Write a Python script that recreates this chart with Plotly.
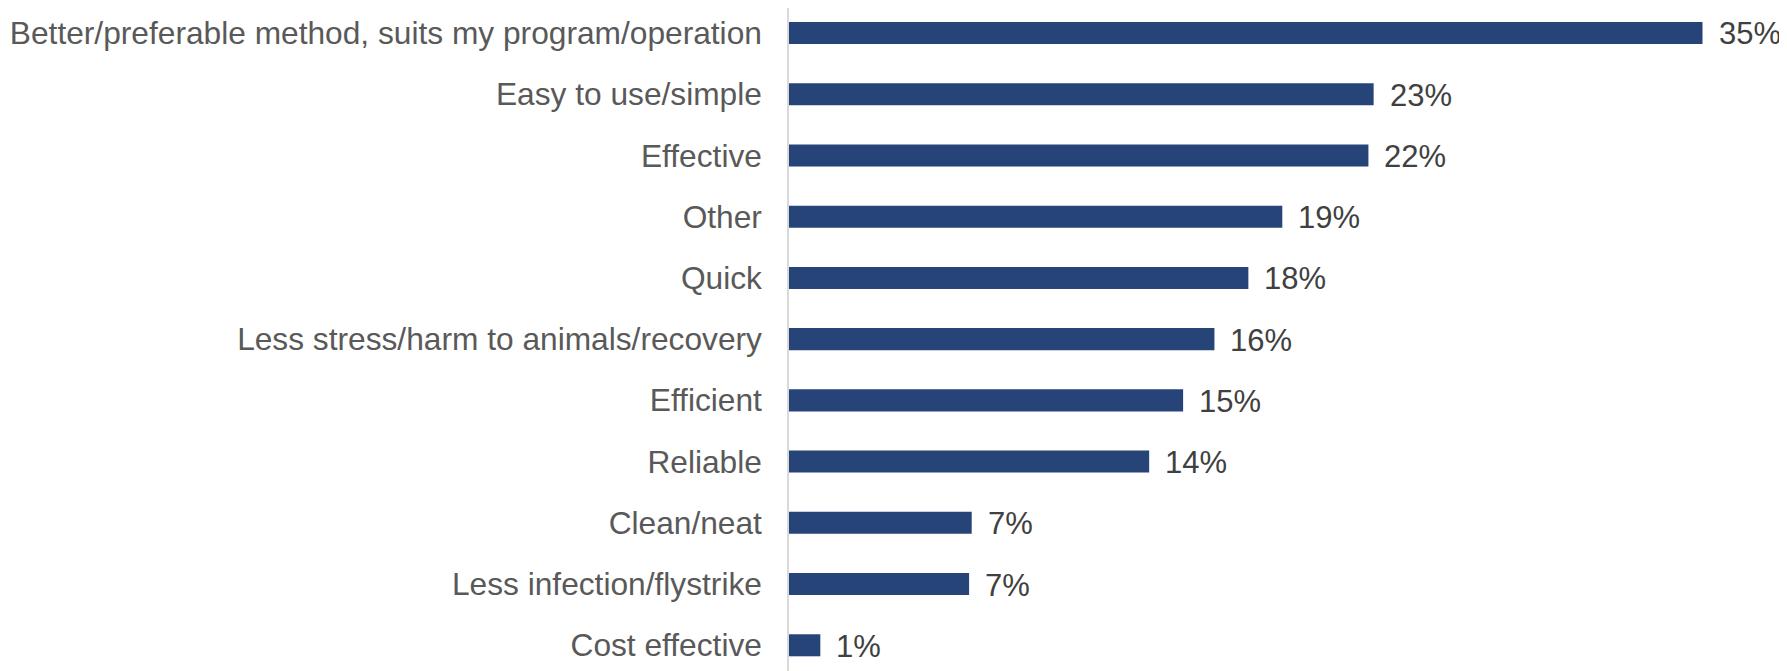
import plotly.graph_objects as go

categories = [
    "Better/preferable method, suits my program/operation",
    "Easy to use/simple",
    "Effective",
    "Other",
    "Quick",
    "Less stress/harm to animals/recovery",
    "Efficient",
    "Reliable",
    "Clean/neat",
    "Less infection/flystrike",
    "Cost effective",
]
values = [35.0, 22.4, 22.2, 18.9, 17.6, 16.3, 15.1, 13.8, 7.0, 6.9, 1.2]
value_labels = ["35%", "23%", "22%", "19%", "18%", "16%", "15%", "14%", "7%", "7%", "1%"]

# the page body adds an 8px offset, so the figure is sized to fit inside it
W, H = 1779, 663
L = 781
PX_PER_UNIT = 26.1
FONT = "Liberation Sans, Arial, sans-serif"
BAR_COLOR = "#264478"

fig = go.Figure()
fig.add_trace(go.Bar(
    y=categories,
    x=values,
    orientation="h",
    width=0.36,
    marker=dict(color=BAR_COLOR, line=dict(width=0)),
    hoverinfo="skip",
))

for c, v, t in zip(categories, values, value_labels):
    fig.add_annotation(
        x=v, y=c, text=t, showarrow=False,
        xanchor="left", yanchor="middle", xshift=14, yshift=-1,
        font=dict(family=FONT, size=31, color="#404040"),
    )

fig.update_layout(
    width=W, height=H,
    margin=dict(l=L, r=0, t=0, b=0, autoexpand=False),
    paper_bgcolor="white", plot_bgcolor="white",
    showlegend=False,
    font=dict(family=FONT),
)
fig.update_xaxes(
    range=[0, (W - L) / PX_PER_UNIT],
    showgrid=False, zeroline=False, showticklabels=False, showline=False,
    automargin=False,
)
fig.update_yaxes(
    type="category",
    categoryorder="array", categoryarray=categories,
    range=[10.420, -0.408],
    showgrid=False, zeroline=False,
    showline=True, linecolor="#d9d9d9", linewidth=1.5,
    ticks="", ticklabelstandoff=19, automargin=False,
    tickfont=dict(family=FONT, size=31.7, color="#595959"),
)

fig.write_html("out.html")
